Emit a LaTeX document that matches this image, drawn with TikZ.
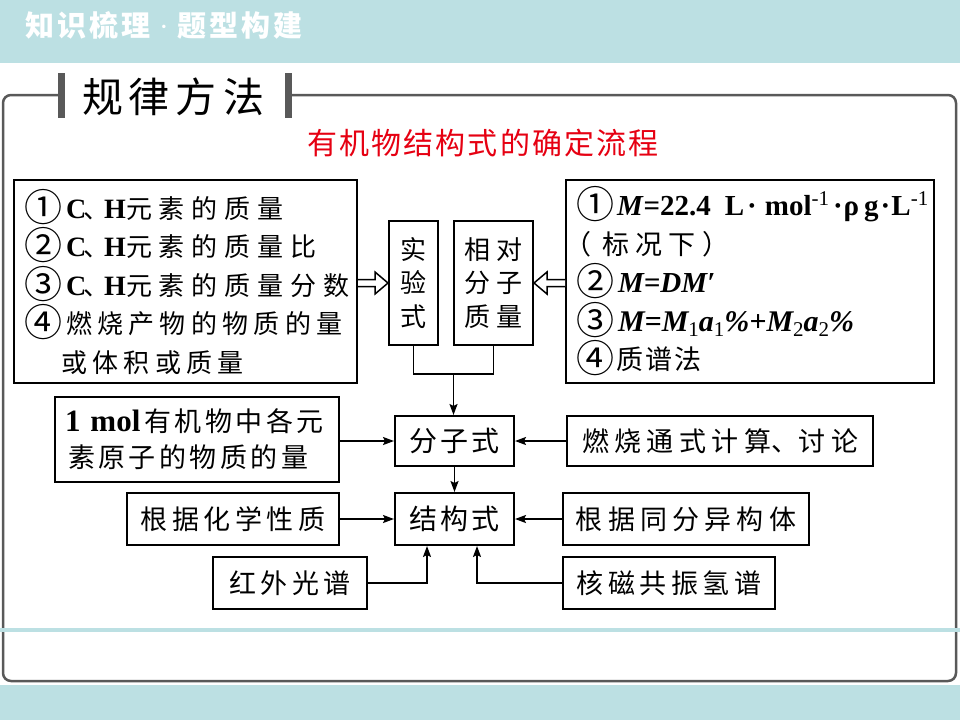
\documentclass[tikz,border=0pt]{standalone}
\usepackage{fontspec}
\setmainfont{Noto Sans CJK SC}
\newfontfamily\tnr{Liberation Serif}
\usetikzlibrary{arrows.meta,calc}
\newXeTeXintercharclass\myhan
\count255="4E00
\loop
  \XeTeXcharclass\count255=\myhan
  \advance\count255 by 1
\ifnum\count255<"A000 \repeat
\XeTeXinterchartokenstate=1
\newdimen\cjkgap
\cjkgap=0pt
\XeTeXinterchartoks\myhan\myhan = {\kern\cjkgap\relax}
\newcommand\gapset[1]{\global\cjkgap #1\relax}
\newcommand\circn[1]{\raisebox{-3pt}{\fontsize{38}{38}\selectfont #1}}
\newcommand\ssb[1]{{\mdseries\upshape\fontsize{21}{21}\selectfont\raisebox{-0.22em}{#1}}}
\newcommand\sps[1]{{\mdseries\upshape\fontsize{21}{21}\selectfont\raisebox{0.5em}{#1}}}
\definecolor{teal1}{RGB}{188,224,227}
\definecolor{framegray}{RGB}{89,89,89}
\definecolor{titlered}{RGB}{230,0,18}
\tikzset{
  box/.style={draw, line width=2pt, inner sep=0pt,
    font=\fontsize{27}{32}\selectfont\gapset{4.5pt}},
  conn/.style={line width=1.8pt, -{Stealth[length=11pt,width=8pt,inset=2pt]}},
  thinconn/.style={line width=1.2pt},
  hollow/.style={line width=1.5pt, fill=white, line join=miter},
}
\begin{document}
\begin{tikzpicture}[x=1pt,y=-1pt]
\useasboundingbox (0,0) rectangle (960,720);
\fill[white] (0,0) rectangle (960,720);
% banners
\fill[teal1] (0,0) rectangle (960,63);
\fill[teal1] (0,685) rectangle (960,720);
\node[text=white, font=\bfseries\fontsize{29}{29}\selectfont\gapset{3pt}] (hdr) at (164,25) {知识梳理\hspace{9pt}{\tnr\mdseries ·}\hspace{9pt}题型构建};
% frame
\draw[framegray, line width=2.5pt, rounded corners=8pt] (58,95) -- (3,95) -- (3,681) -- (956,681) -- (956,95) -- (292,95);
\fill[framegray] (58,73) rectangle (65,118);
\fill[framegray] (285,73) rectangle (292,118);
\node[font=\fontsize{41}{41}\selectfont\gapset{6pt}] (gl) at (173,97) {规律方法};
\fill[teal1] (0,628) rectangle (960,632);
% title
\node[text=titlered, font=\fontsize{30}{30}\selectfont\gapset{2.2pt}] (ttl) at (483,143) {有机物结构式的确定流程};
% top boxes
\node[box, minimum width=343pt, minimum height=203pt, text width=323pt, inner xsep=10pt, align=left,
  font=\fontsize{26}{38.5}\selectfont\gapset{7pt}] (L1) at (185.5,281.5) {%
\mbox{\circn{①}\hspace{4pt}{\tnr\bfseries\fontsize{28}{28}\selectfont C}\kern-3pt、\kern-5pt{\tnr\bfseries\fontsize{28}{28}\selectfont H}元素的质量}\\
\mbox{\circn{②}\hspace{4pt}{\tnr\bfseries\fontsize{28}{28}\selectfont C}\kern-3pt、\kern-5pt{\tnr\bfseries\fontsize{28}{28}\selectfont H}元素的质量比}\\
\mbox{\circn{③}\hspace{4pt}{\tnr\bfseries\fontsize{28}{28}\selectfont C}\kern-3pt、\kern-5pt{\tnr\bfseries\fontsize{28}{28}\selectfont H}元素的质量分数}\\
\mbox{\gapset{5.3pt}\circn{④}\hspace{4pt}燃烧产物的物质的量}\\
\mbox{\hspace{37pt}\gapset{5.4pt}或体积或质量}};
\node[box, minimum width=49pt, minimum height=124pt, align=center,
  font=\fontsize{26}{33.5}\selectfont] (sy) at (413.5,283) {实\\验\\式};
\node[box, minimum width=79pt, minimum height=124pt, align=center,
  font=\fontsize{26}{33.5}\selectfont\gapset{5.3pt}] (xd) at (493.5,283) {相对\\分子\\质量};
\node[box, minimum width=368pt, minimum height=203pt, text width=348pt, inner xsep=10pt, align=left,
  font=\fontsize{27}{38.5}\selectfont\gapset{6pt}] (R1) at (750,281.5) {%
\mbox{\circn{①}\hspace{3pt}{\tnr\bfseries\fontsize{29}{29}\selectfont\textit{M}=22.4\hspace{14pt}L\hspace{3pt}·\hspace{8pt}mol\sps{-1}\hspace{4pt}·\hspace{1pt}ρ\hspace{5pt}g\hspace{2pt}·\hspace{1pt}L\sps{-1}}}\\
\mbox{\kern-12pt（\kern12pt标况下\kern6pt）}\\
\mbox{\circn{②}\hspace{4pt}{\tnr\bfseries\itshape\fontsize{29}{29}\selectfont M=DM′}}\\
\mbox{\circn{③}\hspace{4pt}{\tnr\bfseries\itshape\fontsize{30}{30}\selectfont M=M\ssb{1}a\ssb{1}\%+M\ssb{2}a\ssb{2}\%}}\\
\mbox{\gapset{2pt}\circn{④}\hspace{2pt}质谱法}};
% middle boxes
\node[box, minimum width=284pt, minimum height=85pt, text width=264pt, inner xsep=10pt, align=left,
  font=\fontsize{27}{36}\selectfont\gapset{3.5pt}] (m1) at (197,439.5) {%
\mbox{{\tnr\bfseries\fontsize{31}{31}\selectfont 1\hspace{10pt}mol}\hspace{4pt}有机物中各元}\\
\mbox{\hspace{3pt}素原子的物质的量}};
\node[box, minimum width=119pt, minimum height=50pt, font=\fontsize{28}{32}\selectfont\gapset{3pt}] (fzs) at (454.5,441) {分子式};
\node[box, minimum width=306pt, minimum height=50pt, font=\fontsize{27}{32}\selectfont\gapset{5.5pt}] (rs) at (720,441) {燃烧通式计算、讨论};
\node[box, minimum width=212pt, minimum height=52pt] (hx) at (233,519) {根据化学性质};
\node[box, minimum width=119pt, minimum height=52pt, font=\fontsize{28}{32}\selectfont\gapset{3pt}] (jgs) at (454.5,519) {结构式};
\node[box, minimum width=246pt, minimum height=52pt, font=\fontsize{27}{32}\selectfont\gapset{5.2pt}] (tf) at (686,519) {根据同分异构体};
\node[box, minimum width=154pt, minimum height=52pt] (hw) at (290,583) {红外光谱};
\node[box, minimum width=212pt, minimum height=52pt] (hc) at (669,583) {核磁共振氢谱};
% hollow arrows
\coordinate (ha) at (L1.east |- sy.west);
\draw[hollow] ([yshift=3.5pt]ha) -- ([xshift=-13pt,yshift=3.5pt]sy.west) -- ([xshift=-13pt,yshift=11pt]sy.west) -- (sy.west)
  -- ([xshift=-13pt,yshift=-11pt]sy.west) -- ([xshift=-13pt,yshift=-3.5pt]sy.west) -- ([yshift=-3.5pt]ha);
\coordinate (hb) at (R1.west |- xd.east);
\draw[hollow] ([yshift=3.5pt]hb) -- ([xshift=13pt,yshift=3.5pt]xd.east) -- ([xshift=13pt,yshift=11pt]xd.east) -- (xd.east)
  -- ([xshift=13pt,yshift=-11pt]xd.east) -- ([xshift=13pt,yshift=-3.5pt]xd.east) -- ([yshift=-3.5pt]hb);
% junction
\coordinate (jn) at ($(sy.south)!0.5!(xd.south)+(0,28)$);
\draw[thinconn] (sy.south) |- (jn) -| (xd.south);
\draw[conn] (jn) -- (jn |- fzs.north);
% connectors
\draw[conn] (m1.east |- fzs.west) -- (fzs.west);
\draw[conn] (rs.west) -- (fzs.east);
\draw[conn] (fzs.south) -- (jgs.north);
\draw[conn] (hx.east) -- (jgs.west);
\draw[conn] (tf.west) -- (jgs.east);
\draw[conn] (hw.east) -| ([xshift=-27.5pt]jgs.south);
\draw[conn] (hc.west) -| ([xshift=22.5pt]jgs.south);
\end{tikzpicture}
\end{document}
